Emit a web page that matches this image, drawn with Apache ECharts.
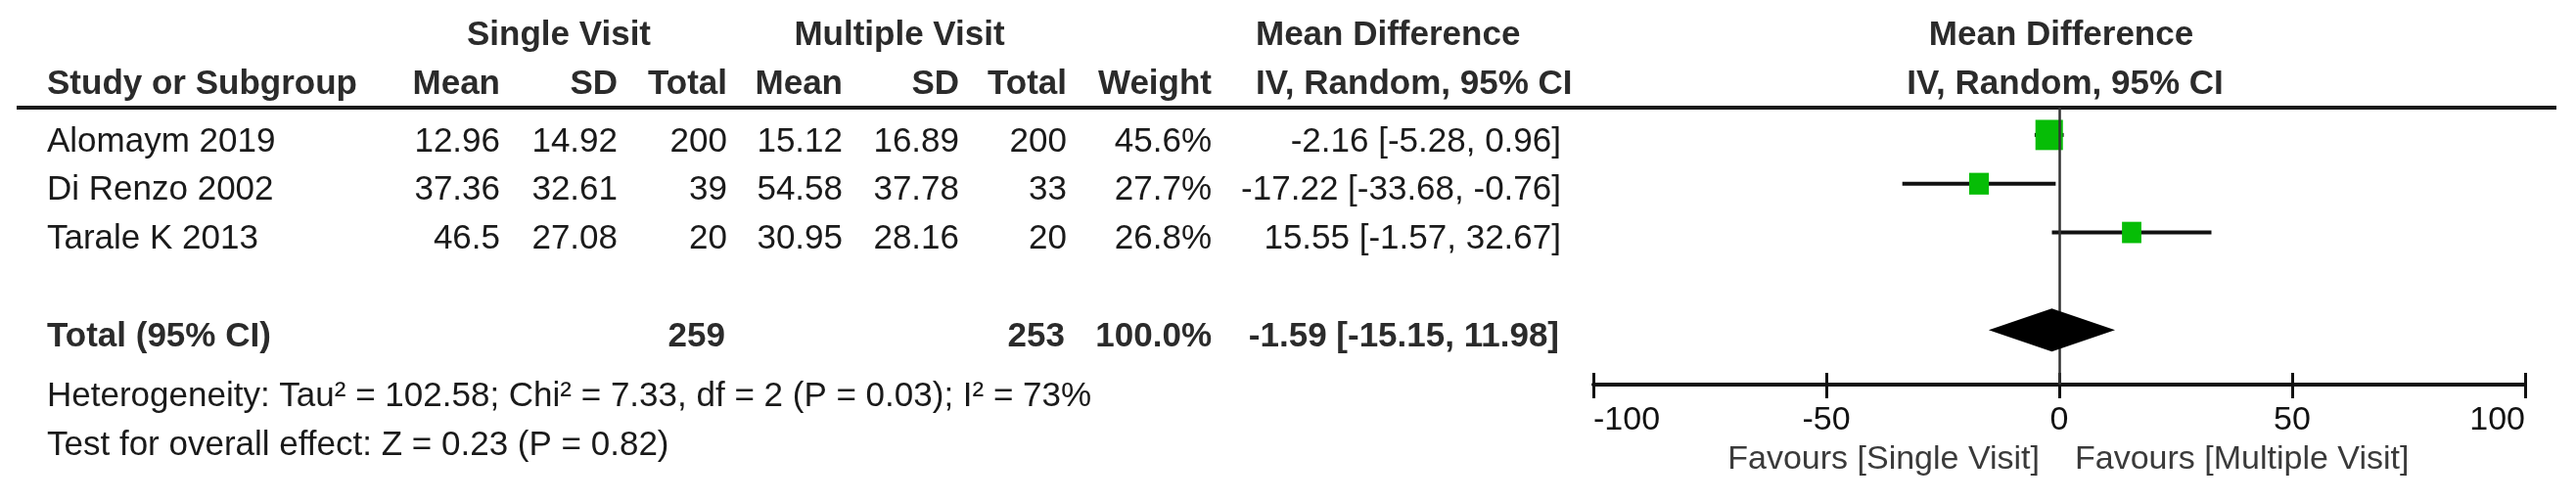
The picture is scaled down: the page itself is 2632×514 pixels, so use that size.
<!DOCTYPE html>
<html>
<head>
<meta charset="utf-8">
<script src="https://cdn.jsdelivr.net/npm/echarts@6/dist/echarts.min.js"></script>
<style>
html,body{margin:0;padding:0;background:#fff;}
#chart{width:2632px;height:514px;}
</style>
</head>
<body>
<div id="chart"></div>
<script>
// ---------- data ----------
const studies   = ['Alomaym 2019', 'Di Renzo 2002', 'Tarale K 2013'];
const svMean    = [12.96, 37.36, 46.5];
const svSD      = [14.92, 32.61, 27.08];
const svTotal   = [200, 39, 20];
const mvMean    = [15.12, 54.58, 30.95];
const mvSD      = [16.89, 37.78, 28.16];
const mvTotal   = [200, 33, 20];
const weights   = [45.6, 27.7, 26.8];
const meanDiff  = [-2.16, -17.22, 15.55];
const ciLow     = [-5.28, -33.68, -1.57];
const ciHigh    = [0.96, -0.76, 32.67];

const totalLabel  = 'Total (95% CI)';
const totalSV     = 259;
const totalMV     = 253;
const totalWeight = 100.0;
const totalMD     = -1.59;
const totalLow    = -15.15;
const totalHigh   = 11.98;

const hetTau2 = 102.58, hetChi2 = 7.33, hetDf = 2, hetP = 0.03, hetI2 = 73;
const zValue = 0.23, zP = 0.82;

const xTicks = [-100, -50, 0, 50, 100];
const favourLeft  = 'Favours [Single Visit]';
const favourRight = 'Favours [Multiple Visit]';

// ---------- styling / layout ----------
const FONT = "'Liberation Sans', Arial, sans-serif";
const TXT = '#1a1a1a';
const HDR = '#2b2b2b';
const GREEN = '#06bd06';
const FS = 35;

const chart = echarts.init(document.getElementById('chart'), null, {renderer: 'canvas'});

const totalRow = studies.length + 2;   // blank row between studies and total
const fmt2 = v => v.toFixed(2);
const ciText = (m, l, h) => fmt2(m) + ' [' + fmt2(l) + ', ' + fmt2(h) + ']';
const symSize = w => { const s = 8 + 0.44 * w; return [s, s * 1.1]; };

const option = {
  backgroundColor: '#ffffff',
  animation: false,
  grid: {left: 1628, right: 52, top: 110, bottom: 121},
  xAxis: [{
    type: 'value', min: xTicks[0], max: xTicks[xTicks.length - 1], interval: 50,
    position: 'bottom',
    axisLine: {show: true, lineStyle: {color: '#111', width: 4}},
    axisTick: {show: true, length: 14, lineStyle: {color: '#111', width: 3}},
    axisLabel: {show: true, fontSize: 34, fontFamily: FONT, color: '#111', margin: 20,
                alignMinLabel: 'left', alignMaxLabel: 'right'},
    splitLine: {show: false}
  }, {
    type: 'value', min: xTicks[0], max: xTicks[xTicks.length - 1], interval: 50,
    position: 'bottom', offset: 0,
    axisLine: {show: false},
    axisTick: {show: true, inside: true, length: 12, lineStyle: {color: '#111', width: 3}},
    axisLabel: {show: false},
    splitLine: {show: false}
  }],
  yAxis: {type: 'value', inverse: true, min: 0.44, max: 6.12, show: false},
  series: [{
    type: 'custom',
    name: 'ci',
    xAxisIndex: 0,
    data: studies.map((s, i) => [ciLow[i], ciHigh[i], i + 1]),
    renderItem: function (params, api) {
      const p1 = api.coord([api.value(0), api.value(2)]);
      const p2 = api.coord([api.value(1), api.value(2)]);
      return {type: 'line', shape: {x1: p1[0], y1: p1[1], x2: p2[0], y2: p2[1]},
              style: {stroke: '#111', lineWidth: 4}};
    },
    z: 3
  }, {
    type: 'scatter',
    name: 'md',
    xAxisIndex: 0,
    symbol: 'rect',
    data: studies.map((s, i) => ({value: [meanDiff[i], i + 1], symbolSize: symSize(weights[i])})),
    itemStyle: {color: GREEN, opacity: 1},
    z: 4,
    markLine: {
      silent: true, symbol: 'none', label: {show: false},
      lineStyle: {color: '#333', width: 2.5, type: 'solid'},
      data: [{xAxis: 0}]
    }
  }, {
    type: 'custom',
    name: 'total',
    xAxisIndex: 0,
    data: [[totalLow, totalMD, totalHigh, totalRow]],
    renderItem: function (params, api) {
      const l = api.coord([api.value(0), api.value(3)]);
      const m = api.coord([api.value(1), api.value(3)]);
      const h = api.coord([api.value(2), api.value(3)]);
      const hh = 22;
      return {type: 'polygon',
              shape: {points: [[l[0], l[1]], [m[0], m[1] - hh], [h[0], h[1]], [m[0], m[1] + hh]]},
              style: {fill: '#000'}};
    },
    z: 5
  }]
};
chart.setOption(option);

// ---------- table text ----------
const rowY = r => chart.convertToPixel({yAxisIndex: 0}, r) + 7;
const zeroX = chart.convertToPixel({xAxisIndex: 0}, 0);
const g = [];
function txt(str, x, y, align, bold, color, size) {
  g.push({type: 'text', x: x, y: y, silent: true,
          style: {text: str, fill: color || TXT, font: (bold ? 'bold ' : '') + (size || FS) + 'px ' + FONT,
                  textAlign: align, textVerticalAlign: 'middle'}});
}
// header
const H1 = 36, H2 = 86;
txt('Single Visit', 571, H1, 'center', true, HDR);
txt('Multiple Visit', 919, H1, 'center', true, HDR);
txt('Mean Difference', 1283, H1, 'left', true, HDR);
txt('Mean Difference', zeroX + 2, H1, 'center', true, HDR);
txt('Study or Subgroup', 48, H2, 'left', true, HDR);
txt('Mean', 511, H2, 'right', true, HDR);
txt('SD', 631, H2, 'right', true, HDR);
txt('Total', 743, H2, 'right', true, HDR);
txt('Mean', 861, H2, 'right', true, HDR);
txt('SD', 980, H2, 'right', true, HDR);
txt('Total', 1090, H2, 'right', true, HDR);
txt('Weight', 1238, H2, 'right', true, HDR);
txt('IV, Random, 95% CI', 1283, H2, 'left', true, HDR);
txt('IV, Random, 95% CI', zeroX + 6, H2, 'center', true, HDR);
g.push({type: 'line', silent: true, shape: {x1: 17, y1: 110, x2: 2612, y2: 110},
        style: {stroke: '#1a1a1a', lineWidth: 4}});
// rows
studies.forEach((s, i) => {
  const y = rowY(i + 1);
  txt(s, 48, y, 'left');
  txt(String(svMean[i]), 511, y, 'right');
  txt(String(svSD[i]), 631, y, 'right');
  txt(String(svTotal[i]), 743, y, 'right');
  txt(String(mvMean[i]), 861, y, 'right');
  txt(String(mvSD[i]), 980, y, 'right');
  txt(String(mvTotal[i]), 1090, y, 'right');
  txt(weights[i].toFixed(1) + '%', 1238, y, 'right');
  txt(ciText(meanDiff[i], ciLow[i], ciHigh[i]), 1595, y, 'right');
});
// total
const ty = rowY(totalRow);
txt(totalLabel, 48, ty, 'left', true, HDR);
txt(String(totalSV), 741, ty, 'right', true, HDR);
txt(String(totalMV), 1088, ty, 'right', true, HDR);
txt(totalWeight.toFixed(1) + '%', 1238, ty, 'right', true, HDR);
txt(ciText(totalMD, totalLow, totalHigh), 1593, ty, 'right', true, HDR);
// stats
txt('Heterogeneity: Tau\u00B2 = ' + hetTau2 + '; Chi\u00B2 = ' + hetChi2 + ', df = ' + hetDf +
    ' (P = ' + hetP.toFixed(2) + '); I\u00B2 = ' + hetI2 + '%', 48, 405, 'left');
txt('Test for overall effect: Z = ' + zValue.toFixed(2) + ' (P = ' + zP.toFixed(2) + ')', 48, 455, 'left');
// favours
txt(favourLeft, zeroX - 20, 470, 'right', false, '#3a3a3a', 34);
txt(favourRight, zeroX + 16, 470, 'left', false, '#3a3a3a', 34);

chart.setOption({graphic: {elements: g}});
</script>
</body>
</html>
